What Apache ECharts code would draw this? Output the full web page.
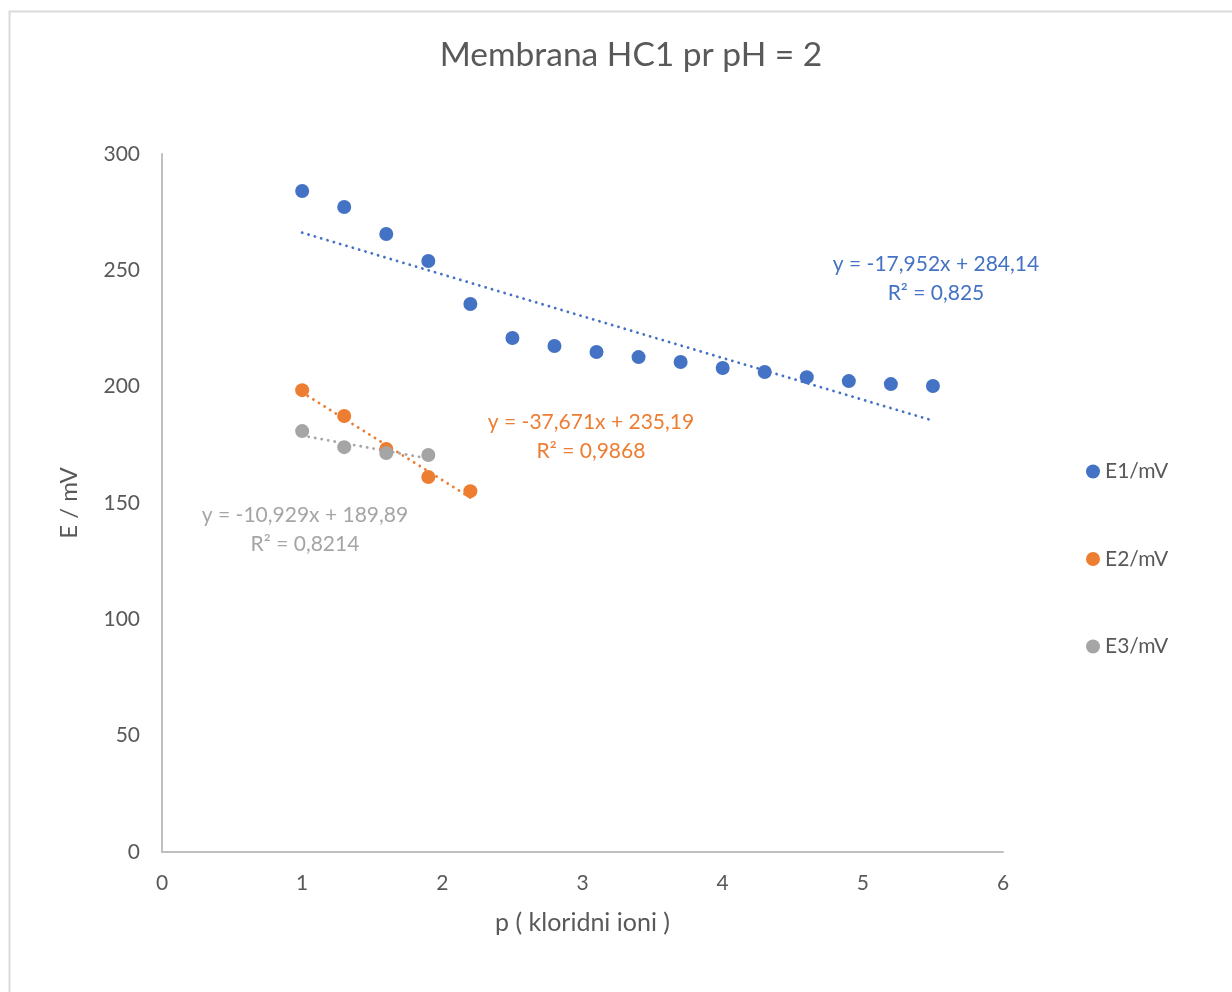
<!DOCTYPE html>
<html>
<head>
<meta charset="utf-8">
<script src="https://cdn.jsdelivr.net/npm/echarts@6/dist/echarts.min.js"></script>
<style>
html,body{margin:0;padding:0;background:#fff;}
#c{width:1232px;height:992px;}
</style>
</head>
<body>
<div id="c"></div>
<script>
// ---- data ----
const e1X = [1, 1.3, 1.6, 1.9, 2.2, 2.5, 2.8, 3.1, 3.4, 3.7, 4.0, 4.3, 4.6, 4.9, 5.2, 5.5];
const e1Y = [284.1, 277.2, 265.6, 254.0, 235.5, 220.9, 217.5, 214.9, 212.7, 210.6, 208.0, 206.3, 204.1, 202.4, 201.1, 200.3];
const e2X = [1, 1.3, 1.6, 1.9, 2.2];
const e2Y = [198.5, 187.4, 173.2, 161.2, 155.1];
const e3X = [1, 1.3, 1.6, 1.9];
const e3Y = [180.9, 174.0, 171.5, 170.6];
const seriesNames = ['E1/mV', 'E2/mV', 'E3/mV'];
// trendline coefficients [slope, intercept] as shown on chart
const trend1 = [-17.952, 284.14];
const trend2 = [-37.671, 235.19];
const trend3 = [-10.929, 189.89];
const trendText1 = ['y = -17,952x + 284,14', 'R² = 0,825'];
const trendText2 = ['y = -37,671x + 235,19', 'R² = 0,9868'];
const trendText3 = ['y = -10,929x + 189,89', 'R² = 0,8214'];
const title = 'Membrana HC1 pr pH = 2';
const xName = 'p ( kloridni ioni )';
const yName = 'E / mV';

const colors = ['#4472C4', '#ED7D31', '#A5A5A5'];
const FONT = 'Lato, "Open Sans", sans-serif';

function pts(xs, ys){ return xs.map((x,i)=>[x, ys[i]]); }
function trendPts(xs, c){
  const a = Math.min(...xs), b = Math.max(...xs);
  return [[a, c[0]*a + c[1]], [b, c[0]*b + c[1]]];
}

const chart = echarts.init(document.getElementById('c'), null, {renderer:'canvas'});

function scatter(name, data, color){
  return {name, type:'scatter', data, symbol:'circle', symbolSize:14,
    itemStyle:{color, opacity:1}, z:3};
}
function trend(data, color){
  return {type:'line', data, symbol:'none', silent:true, z:2,
    lineStyle:{color, width:2.8, type:[0.1, 6.5], cap:'round'}};
}

function textBlock(lines, cx, y, color){
  return lines.map((t,i)=>({type:'text', x:cx, y:y + i*29,
    style:{text:t, fill:color, font:'21px '+FONT, textAlign:'center', textVerticalAlign:'middle'}}));
}

chart.setOption({
  animation:false,
  backgroundColor:'#fff',
  title:{text:title, left:626, top:33, textAlign:'center',
    textStyle:{color:'#595959', fontSize:33.5, fontWeight:'normal', fontFamily:FONT}},
  grid:{left:162, right:229, top:154, bottom:140, containLabel:false},
  legend:{orient:'vertical', left:1081, top:456, itemGap:66.5, itemWidth:14, itemHeight:14,
    data:seriesNames.map(n=>({name:n, icon:'circle'})),
    textStyle:{color:'#595959', fontSize:21, fontFamily:FONT}},
  xAxis:{type:'value', min:0, max:6, interval:1,
    name:xName, nameLocation:'middle', nameGap:58,
    nameTextStyle:{color:'#595959', fontSize:25, fontFamily:FONT},
    axisLine:{show:true, lineStyle:{color:'#BFBFBF', width:2}},
    axisTick:{show:false}, splitLine:{show:false},
    axisLabel:{color:'#595959', fontSize:21, fontFamily:FONT, margin:21}},
  yAxis:{type:'value', min:0, max:300, interval:50,
    name:yName, nameLocation:'middle', nameGap:81, nameRotate:90,
    nameTextStyle:{color:'#595959', fontSize:24, fontFamily:FONT},
    axisLine:{show:true, lineStyle:{color:'#BFBFBF', width:2}},
    axisTick:{show:false}, splitLine:{show:false},
    axisLabel:{color:'#595959', fontSize:21, fontFamily:FONT, margin:22}},
  series:[
    scatter(seriesNames[0], pts(e1X, e1Y), colors[0]),
    scatter(seriesNames[1], pts(e2X, e2Y), colors[1]),
    scatter(seriesNames[2], pts(e3X, e3Y), colors[2]),
    trend(trendPts(e1X, trend1), colors[0]),
    trend(trendPts(e2X, trend2), colors[1]),
    trend(trendPts(e3X, trend3), colors[2])
  ],
  graphic:[
    {type:'rect', shape:{x:9.5, y:11.5, width:1300, height:1100}, silent:true, z:-10,
      style:{fill:null, stroke:'#D9D9D9', lineWidth:2}},
    ...textBlock(trendText1, 936, 264, colors[0]),
    ...textBlock(trendText2, 591, 422, colors[1]),
    ...textBlock(trendText3, 305, 515, colors[2])
  ]
});
</script>
</body>
</html>
